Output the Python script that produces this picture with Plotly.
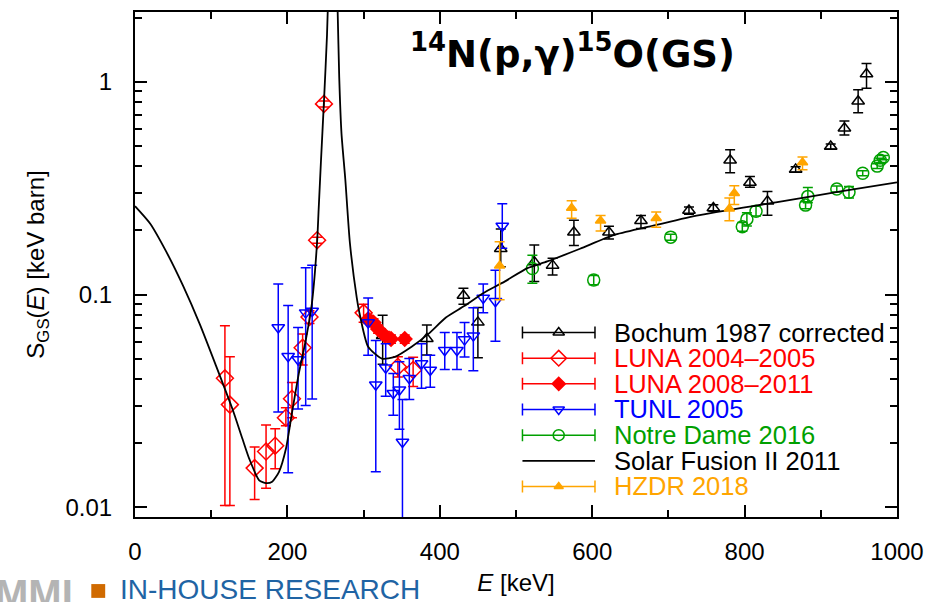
import plotly.graph_objects as go

# ---------------------------------------------------------------
# 14N(p,gamma)15O ground-state transition: astrophysical S-factor
# ---------------------------------------------------------------

# Solar Fusion II (2011) R-matrix curve
sf_e = [0, 20, 41, 63, 85, 106, 128, 141, 150, 163, 172, 180, 189, 198, 206,
        215, 224, 232, 239, 241, 244, 248, 252, 255, 259, 263, 266, 268, 271,
        276, 282, 291, 294, 306, 324, 341, 363, 385, 408, 432, 458, 485, 515,
        541, 584, 628, 671, 737, 841, 928, 1000]
sf_s = [0.260, 0.215, 0.159, 0.110, 0.0726, 0.0466, 0.0289, 0.0210, 0.0169,
        0.0134, 0.0130, 0.0132, 0.0147, 0.0188, 0.0278, 0.0426, 0.0608, 0.090,
        0.177, 0.25, 0.42, 0.81, 1.66, 4.0, 30.0, 4.5, 2.1, 1.05, 0.57, 0.347,
        0.175, 0.0966, 0.0838, 0.0568, 0.0500, 0.0509, 0.0568, 0.0653, 0.078,
        0.0883, 0.102, 0.115, 0.133, 0.143, 0.164, 0.190, 0.207, 0.235, 0.271,
        0.306, 0.336]

# Bochum 1987 (corrected)
bochum_e = [325, 383, 431, 450, 480, 524, 548, 576, 622, 664, 727, 759, 781,
            807, 830, 867, 913, 931, 949, 960]
bochum_s = [0.064, 0.062, 0.099, 0.074, 0.164, 0.142, 0.137, 0.196, 0.196,
            0.222, 0.248, 0.255, 0.427, 0.336, 0.274, 0.387, 0.496, 0.604,
            0.808, 1.085]
bochum_hi = [0.080, 0.072, 0.107, 0.087, 0.203, 0.171, 0.148, 0.223, 0.209,
             0.235, 0.258, 0.264, 0.479, 0.358, 0.305, 0.398, 0.510, 0.653,
             0.915, 1.215]
bochum_lo = [0.047, 0.052, 0.090, 0.0505, 0.135, 0.115, 0.1235, 0.170, 0.1825,
             0.204, 0.238, 0.246, 0.373, 0.319, 0.236, 0.376, 0.482, 0.562,
             0.714, 0.932]

# LUNA 2004-2005
luna05_e = [118, 124.5, 157, 172, 184, 198, 206, 220, 229, 239, 248, 300,
            345, 365]
luna05_s = [0.0404, 0.0304, 0.0153, 0.0183, 0.0195, 0.0264, 0.0324, 0.0562,
            0.0784, 0.180, 0.786, 0.082, 0.0458, 0.0442]
luna05_hi = [0.0713, 0.051, 0.0192, 0.0244, 0.0234, 0.0294, 0.0386, 0.0652,
             0.084, 0.186, 0.81, 0.090, 0.051, 0.0508]
luna05_lo = [0.0102, 0.0102, 0.0109, 0.0123, 0.0152, 0.0242, 0.0264, 0.0466,
             0.073, 0.174, 0.76, 0.074, 0.041, 0.0370]

# LUNA 2008-2011
luna11_e = [306, 313, 319, 328, 336, 354]
luna11_s = [0.0765, 0.0738, 0.0688, 0.0641, 0.0618, 0.0618]
luna11_hi = [0.080, 0.077, 0.072, 0.067, 0.0645, 0.0645]
luna11_lo = [0.073, 0.0706, 0.0658, 0.0613, 0.0591, 0.0591]

# TUNL 2005
tunl_e = [188, 201, 214, 224, 232.5, 306, 316, 329, 339, 347, 351, 360, 376,
          387.5, 406.5, 422.5, 432.5, 444, 457, 473, 482]
tunl_s = [0.070, 0.0513, 0.0495, 0.0822, 0.0836, 0.0738, 0.0377, 0.0453,
          0.0344, 0.0357, 0.0203, 0.0404, 0.0474, 0.0442, 0.0547, 0.0547,
          0.0614, 0.0641, 0.0964, 0.093, 0.210]
tunl_hi = [0.112, 0.0888, 0.070, 0.1336, 0.1374, 0.0964, 0.0608, 0.0587,
           0.0426, 0.0483, 0.0321, 0.050, 0.0587, 0.0518, 0.0664, 0.0664,
           0.0738, 0.0866, 0.112, 0.130, 0.267]
tunl_lo = [0.0281, 0.01456, 0.029, 0.0301, 0.0323, 0.0518, 0.0147, 0.0333,
           0.0271, 0.0233, 0.005, 0.0321, 0.0363, 0.0367, 0.0445, 0.0445,
           0.0509, 0.0439, 0.0822, 0.0604, 0.165]

# Notre Dame 2016
nd_e = [521.5, 602, 703, 797, 803, 815, 880, 883, 921, 937, 955, 974, 978, 982]
nd_s = [0.1325, 0.117, 0.186, 0.208, 0.226, 0.246, 0.263, 0.289, 0.313,
        0.302, 0.371, 0.401, 0.427, 0.440]
nd_hi = [0.153, 0.123, 0.192, 0.218, 0.242, 0.260, 0.273, 0.318, 0.323,
         0.322, 0.381, 0.411, 0.437, 0.450]
nd_lo = [0.113, 0.111, 0.180, 0.198, 0.210, 0.234, 0.253, 0.270, 0.303,
         0.284, 0.361, 0.391, 0.417, 0.430]

# HZDR 2018
hzdr_e = [478.5, 573, 611, 684, 780, 786.5, 876]
hzdr_s = [0.1364, 0.255, 0.222, 0.228, 0.253, 0.299, 0.417]
hzdr_hi = [0.177, 0.276, 0.235, 0.244, 0.284, 0.324, 0.442]
hzdr_lo = [0.0946, 0.228, 0.199, 0.207, 0.222, 0.265, 0.386]

x_ticks = [0, 200, 400, 600, 800, 1000]
x_minor = [100, 300, 500, 700, 900]
y_ticks = [0.01, 0.1, 1]
y_ticklabels = ["0.01", "0.1", "1"]

# ---------------- styling ----------------
FONT = "Liberation Sans, Arial, Helvetica, sans-serif"
RED, BLUE, GREEN, ORANGE, BLACK = "#ff0000", "#0000ff", "#00a000", "#ffa500", "#000000"

W, H = 934, 602
PLOT_L, PLOT_R, PLOT_T, PLOT_B = 135, 902, 10, 522


def px_x(x):
    return (x - PLOT_L) / (PLOT_R - PLOT_L)


def px_y(y):
    return (PLOT_B - y) / (PLOT_B - PLOT_T)


def errbars(s, hi, lo, color):
    return dict(type="data", symmetric=False,
                array=[h - v for h, v in zip(hi, s)],
                arrayminus=[v - l for v, l in zip(s, lo)],
                color=color, thickness=1.5, width=5)


series = [
    dict(name="Bochum 1987 corrected", e=bochum_e, s=bochum_s, hi=bochum_hi, lo=bochum_lo,
         color=BLACK, symbol="triangle-up-open", size=11),
    dict(name="LUNA 2004\u20132005", e=luna05_e, s=luna05_s, hi=luna05_hi, lo=luna05_lo,
         color=RED, symbol="diamond-open", size=13),
    dict(name="LUNA 2008\u20132011", e=luna11_e, s=luna11_s, hi=luna11_hi, lo=luna11_lo,
         color=RED, symbol="diamond", size=11),
    dict(name="TUNL 2005", e=tunl_e, s=tunl_s, hi=tunl_hi, lo=tunl_lo,
         color=BLUE, symbol="triangle-down-open", size=11),
    dict(name="Notre Dame 2016", e=nd_e, s=nd_s, hi=nd_hi, lo=nd_lo,
         color=GREEN, symbol="circle-open", size=12),
    dict(name="Solar Fusion II 2011", curve=True, color=BLACK),
    dict(name="HZDR 2018", e=hzdr_e, s=hzdr_s, hi=hzdr_hi, lo=hzdr_lo,
         color=ORANGE, symbol="triangle-up", size=9),
]

fig = go.Figure()

for sr in series:
    if sr.get("curve"):
        fig.add_trace(go.Scatter(
            x=sf_e, y=sf_s, mode="lines", name=sr["name"],
            line=dict(color=BLACK, width=1.8, shape="spline", smoothing=0.6),
            showlegend=False, hoverinfo="skip"))
    else:
        fig.add_trace(go.Scatter(
            x=sr["e"], y=sr["s"], mode="markers", name=sr["name"],
            marker=dict(symbol=sr["symbol"], size=sr["size"], color=sr["color"],
                        line=dict(color=sr["color"], width=1.5)),
            error_y=errbars(sr["s"], sr["hi"], sr["lo"], sr["color"]),
            showlegend=False))

# ---------------- key (drawn on a pixel-unit overlay) ----------------
LEG_GLYPH_X0, LEG_GLYPH_X1, LEG_TEXT_X = 525, 598, 615
LEG_ROW0, LEG_DY = 335, 26
leg_mid = (LEG_GLYPH_X0 + LEG_GLYPH_X1) / 2
leg_half = (LEG_GLYPH_X1 - LEG_GLYPH_X0) / 2

annotations = []
for i, sr in enumerate(series):
    row = LEG_ROW0 + i * LEG_DY
    if sr.get("curve"):
        fig.add_trace(go.Scatter(
            x=[LEG_GLYPH_X0, LEG_GLYPH_X1], y=[row, row], mode="lines",
            line=dict(color=BLACK, width=1.8), xaxis="x2", yaxis="y2",
            showlegend=False, hoverinfo="skip", cliponaxis=False))
    else:
        fig.add_trace(go.Scatter(
            x=[leg_mid], y=[row], mode="markers",
            marker=dict(symbol=sr["symbol"], size=sr["size"] - 1, color=sr["color"],
                        line=dict(color=sr["color"], width=1.5)),
            error_x=dict(type="constant", value=leg_half, color=sr["color"],
                         thickness=1.5, width=6),
            xaxis="x2", yaxis="y2", showlegend=False, hoverinfo="skip",
            cliponaxis=False))
    annotations.append(dict(
        text=sr["name"], x=px_x(LEG_TEXT_X), y=px_y(row), xref="paper", yref="paper",
        xanchor="left", yanchor="middle", showarrow=False,
        font=dict(family=FONT, size=25.5, color=sr["color"])))

# reaction label
annotations.append(dict(
    text="<b><sup>14</sup>N(p,\u03b3)<sup>15</sup>O(GS)</b>",
    x=px_x(575), y=px_y(50), xref="paper", yref="paper",
    xanchor="center", yanchor="middle", showarrow=False,
    font=dict(family="DejaVu Sans, " + FONT, size=37, color=BLACK)))

# footer banner
annotations.append(dict(
    text="<b>MML</b>", x=px_x(-8), y=px_y(576), xref="paper", yref="paper",
    xanchor="left", yanchor="top", showarrow=False,
    font=dict(family=FONT, size=40, color="#b4b4b4")))
annotations.append(dict(
    text="IN-HOUSE RESEARCH", x=px_x(118), y=px_y(578), xref="paper", yref="paper",
    xanchor="left", yanchor="top", showarrow=False,
    font=dict(family=FONT, size=28, color="#1f64a4")))

shapes = [dict(type="rect", xref="paper", yref="paper",
               x0=px_x(91), x1=px_x(105), y0=px_y(604), y1=px_y(590),
               fillcolor="#d06a00", line=dict(width=0))]

axis_common = dict(
    showline=True, linewidth=2, linecolor=BLACK, mirror="allticks",
    ticks="inside", ticklen=12, tickwidth=1.5, tickcolor=BLACK,
    showgrid=False, zeroline=False,
    tickfont=dict(family=FONT, size=24, color=BLACK),
)

y_minor = [m * 10.0 ** k for k in (-2, -1, 0) for m in range(2, 10) if m * 10.0 ** k < 2.2]

fig.update_layout(
    width=W, height=H,
    margin=dict(l=PLOT_L, r=W - PLOT_R, t=PLOT_T, b=H - PLOT_B, pad=0),
    paper_bgcolor="white", plot_bgcolor="white",
    font=dict(family=FONT, color=BLACK),
    showlegend=False,
    xaxis=dict(
        range=[0, 1000], tickvals=x_ticks, ticklabelstandoff=12,
        minor=dict(tickvals=x_minor, ticks="inside", ticklen=7, tickwidth=1.5,
                   tickcolor=BLACK, showgrid=False),
        title=dict(text="<i>E</i> [keV]", font=dict(family=FONT, size=24), standoff=10),
        **axis_common),
    yaxis=dict(
        type="log", range=[-2.045, 0.327], tickvals=y_ticks, ticktext=y_ticklabels,
        ticklabelstandoff=16,
        minor=dict(tickvals=y_minor, ticks="inside", ticklen=7, tickwidth=1.5,
                   tickcolor=BLACK, showgrid=False),
        title=dict(text="S<sub>GS</sub>(<i>E</i>) [keV barn]",
                   font=dict(family=FONT, size=24), standoff=14),
        **axis_common),
    xaxis2=dict(overlaying="x", anchor="y2", range=[PLOT_L, PLOT_R], visible=False),
    yaxis2=dict(overlaying="y", anchor="x2", range=[PLOT_B, PLOT_T], visible=False),
    annotations=annotations,
    shapes=shapes,
)

fig.write_html("out.html")
